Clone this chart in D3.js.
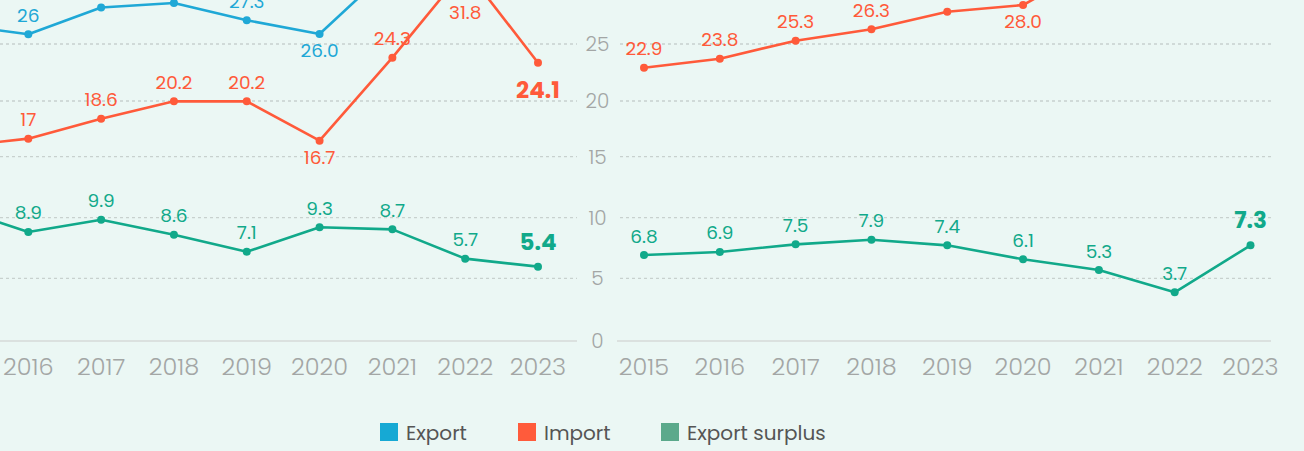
<!DOCTYPE html>
<html>
<head>
<meta charset="utf-8">
<script src="https://cdn.jsdelivr.net/npm/d3@7"></script>
<style>
  html, body { margin: 0; padding: 0; background: #ebf7f4; overflow: hidden; }
  svg { display: block; font-family: Poppins, Roboto, "Open Sans", sans-serif; }
</style>
</head>
<body>
<div id="chart"></div>
<script>
// years shared by both panels
const years = ["2015", "2016", "2017", "2018", "2019", "2020", "2021", "2022", "2023"];
const yTicks = [0, 5, 10, 15, 20, 25];

// left panel (plotted values + printed labels)
const leftExport = [26.7, 25.85, 28.2, 28.6, 27.08, 25.88, 31.8, 37.5, 29.5];
const leftExportLabels = ["26.7", "26", "28.5", "28.8", "27.3", "26.0", "33.0", "37.5", "29.5"];
const leftImport = [15.9, 16.62, 18.41, 19.97, 19.97, 16.44, 23.8, 31.6, 23.36];
const leftImportLabels = ["15.9", "17", "18.6", "20.2", "20.2", "16.7", "24.3", "31.8", "24.1"];
const leftSurplus = [10.8, 8.82, 9.83, 8.6, 7.19, 9.21, 9.04, 6.62, 5.96];
const leftSurplusLabels = ["10.8", "8.9", "9.9", "8.6", "7.1", "9.3", "8.7", "5.7", "5.4"];

// right panel
const rightExport = [29.7, 30.7, 32.8, 34.2, 35.1, 34.1, 37.4, 37.2, 38.8];
const rightExportLabels = ["29.7", "30.7", "32.8", "34.2", "35.1", "34.1", "37.4", "37.2", "38.8"];
const rightImport = [22.92, 23.71, 25.29, 26.29, 27.83, 28.42, 32.1, 33.5, 31.5];
const rightImportLabels = ["22.9", "23.8", "25.3", "26.3", "27.7", "28.0", "32.1", "33.5", "31.5"];
const rightSurplus = [6.92, 7.17, 7.8, 8.18, 7.72, 6.57, 5.68, 3.88, 7.72];
const rightSurplusLabels = ["6.8", "6.9", "7.5", "7.9", "7.4", "6.1", "5.3", "3.7", "7.3"];

const legendNames = ["Export", "Import", "Export surplus"];

const colors = { exp: "#1fa8d6", imp: "#ff5a3a", sur: "#11a98a" };
const legendColors = ["#16a9d4", "#ff5b3b", "#5ba98b"];

const width = 1304, height = 451;

const svg = d3.select("#chart").append("svg")
    .attr("width", width)
    .attr("height", height);

svg.append("rect").attr("width", width).attr("height", height).attr("fill", "#ebf7f4");

// the grid in the source is not evenly spaced, so use a polylinear scale
const y = d3.scaleLinear()
    .domain(yTicks)
    .range([341, 278.3, 217.7, 156.7, 101, 44]);

function drawPanel(cfg) {
    const x = d3.scalePoint().domain(years).range(cfg.xRange);
    const g = svg.append("g");

    // dotted grid
    g.selectAll(".grid")
        .data(yTicks.filter(d => d > 0))
        .join("line")
        .attr("x1", cfg.gridX[0]).attr("x2", cfg.gridX[1])
        .attr("y1", d => y(d)).attr("y2", d => y(d))
        .attr("stroke", "#c8d1ce")
        .attr("stroke-width", 1.3)
        .attr("stroke-dasharray", "3,3");

    g.append("line")
        .attr("x1", cfg.gridX[0] - 3).attr("x2", cfg.gridX[1])
        .attr("y1", y(0)).attr("y2", y(0))
        .attr("stroke", "#dbe1df")
        .attr("stroke-width", 2);

    if (cfg.showY) {
        g.selectAll(".ytick")
            .data(yTicks)
            .join("text")
            .attr("x", cfg.yLabelX)
            .attr("y", d => y(d))
            .attr("dy", "0.35em")
            .attr("text-anchor", "middle")
            .attr("fill", "#a3a6a5")
            .attr("font-size", 20)
            .attr("font-weight", 300)
            .text(d => d);
    }

    g.selectAll(".xtick")
        .data(years)
        .join("text")
        .attr("x", d => x(d))
        .attr("y", 367)
        .attr("dy", "0.35em")
        .attr("text-anchor", "middle")
        .attr("fill", "#a3a6a5")
        .attr("font-size", 24)
        .attr("font-weight", 300)
        .text(d => d);

    const line = d3.line()
        .x((d, i) => x(years[i]))
        .y(d => y(d));

    cfg.series.forEach(s => {
        g.append("path")
            .datum(s.values)
            .attr("fill", "none")
            .attr("stroke", s.color)
            .attr("stroke-width", 2.6)
            .attr("stroke-linejoin", "round")
            .attr("d", line);

        g.selectAll(null)
            .data(s.values)
            .join("circle")
            .attr("cx", (d, i) => x(years[i]))
            .attr("cy", d => y(d))
            .attr("r", 4)
            .attr("fill", s.color);

        g.selectAll(null)
            .data(s.values)
            .join("text")
            .attr("x", (d, i) => x(years[i]))
            .attr("y", (d, i) => {
                const last = i === years.length - 1;
                const below = s.below.includes(years[i]);
                if (below) return Math.max(y(d) + (last ? 27 : 17), 13);
                return y(d) - (last ? 25 : 19);
            })
            .attr("dy", "0.35em")
            .attr("text-anchor", "middle")
            .attr("fill", s.color)
            .attr("font-size", (d, i) => i === years.length - 1 ? 23 : 18.5)
            .attr("font-weight", (d, i) => i === years.length - 1 ? 700 : 400)
            .text((d, i) => s.labels[i]);
    });
}

drawPanel({
    xRange: [-44.5, 538],
    gridX: [0, 577],
    showY: false,
    series: [
        { values: leftExport, labels: leftExportLabels, color: colors.exp, below: ["2020"] },
        { values: leftImport, labels: leftImportLabels, color: colors.imp, below: ["2020", "2022", "2023"] },
        { values: leftSurplus, labels: leftSurplusLabels, color: colors.sur, below: [] }
    ]
});

drawPanel({
    xRange: [644, 1250.5],
    gridX: [620, 1271],
    showY: true,
    yLabelX: 597.5,
    series: [
        { values: rightExport, labels: rightExportLabels, color: colors.exp, below: [] },
        { values: rightImport, labels: rightImportLabels, color: colors.imp, below: ["2020"] },
        { values: rightSurplus, labels: rightSurplusLabels, color: colors.sur, below: [] }
    ]
});

// legend
const legendX = [380, 518, 661];
const legend = svg.append("g")
    .selectAll("g")
    .data(legendNames)
    .join("g")
    .attr("transform", (d, i) => `translate(${legendX[i]},423)`);

legend.append("rect")
    .attr("width", 18).attr("height", 18)
    .attr("fill", (d, i) => legendColors[i]);

legend.append("text")
    .attr("x", 26)
    .attr("y", 9.5)
    .attr("dy", "0.35em")
    .attr("fill", "#555")
    .attr("font-size", 20)
    .text(d => d);
</script>
</body>
</html>
